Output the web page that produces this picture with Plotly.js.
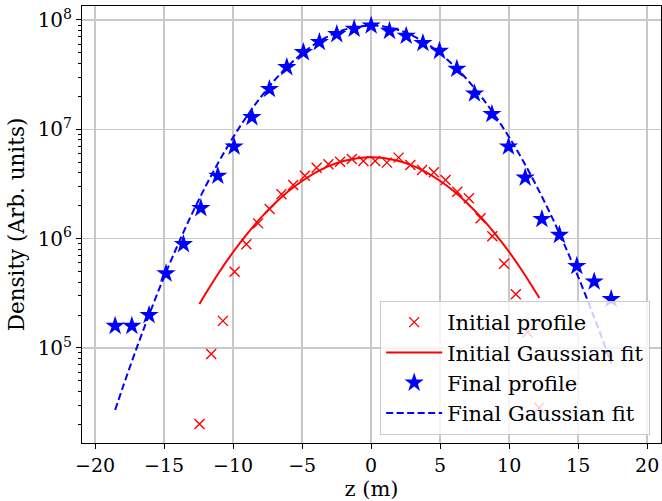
<!DOCTYPE html>
<html>
<head>
<meta charset="utf-8">
<script src="https://cdn.plot.ly/plotly-3.0.1.min.js"></script>
<style>html,body{margin:0;padding:0;background:#fff;}#chart{width:662px;height:501px;}</style>
</head>
<body>
<div id="chart"></div>
<script>
// Initial profile (red x markers)
const initZ = [-12.44, -11.59, -10.74, -9.89, -9.04, -8.19, -7.35, -6.50, -5.65, -4.80,
               -3.95, -3.10, -2.25, -1.40, -0.56, 0.29, 1.14, 1.99, 2.84, 3.69,
               4.54, 5.39, 6.24, 7.08, 7.93, 8.78, 9.63, 10.48, 11.33, 12.18];
const initDensity = [2.02e4, 8.8e4, 1.77e5, 4.99e5, 8.9e5, 1.38e6, 1.87e6, 2.55e6, 3.10e6, 3.77e6,
                     4.46e6, 4.80e6, 5.06e6, 5.36e6, 5.14e6, 5.14e6, 4.96e6, 5.51e6, 4.72e6, 4.25e6,
                     4.05e6, 3.44e6, 2.69e6, 2.34e6, 1.54e6, 1.05e6, 5.9e5, 3.10e5, 1.39e5, 2.84e4];

// Initial Gaussian fit (red solid line)
const initFitZ = [-12.44, -12, -11, -10, -9, -8, -7, -6, -5, -4, -3, -2, -1, 0,
                  1, 2, 3, 4, 5, 6, 7, 8, 9, 10, 11, 12, 12.18];
const initFitDensity = [2.53e5, 3.13e5, 4.96e5, 7.55e5, 1.10e6, 1.55e6, 2.09e6, 2.71e6, 3.37e6, 4.04e6, 4.65e6, 5.13e6, 5.45e6, 5.56e6,
                        5.45e6, 5.13e6, 4.65e6, 4.04e6, 3.37e6, 2.71e6, 2.09e6, 1.55e6, 1.10e6, 7.55e5, 4.96e5, 3.13e5, 2.87e5];

// Final profile (blue stars)
const finalZ = [-18.55, -17.34, -16.09, -14.86, -13.60, -12.34, -11.11, -9.93, -8.64, -7.37,
                -6.11, -4.91, -3.75, -2.49, -1.23, 0.00, 1.33, 2.54, 3.75, 4.95,
                6.21, 7.49, 8.75, 9.95, 11.16, 12.37, 13.64, 14.90, 16.16, 17.39];
const finalDensity = [1.59e5, 1.59e5, 2.0e5, 4.8e5, 8.9e5, 1.9e6, 3.75e6, 6.95e6, 1.29e7, 2.33e7,
                      3.7e7, 5.07e7, 6.27e7, 7.41e7, 8.3e7, 8.89e7, 7.94e7, 7.16e7, 6.14e7, 5.21e7,
                      3.57e7, 2.12e7, 1.38e7, 6.95e6, 3.61e6, 1.51e6, 1.08e6, 5.62e5, 4.05e5, 2.8e5];

// Final Gaussian fit (blue dashed line)
const finalFitZ = [-18.55, -18, -17, -16, -15, -14, -13, -12, -11, -10, -9, -8, -7, -6, -5, -4, -3, -2, -1, 0,
                   1, 2, 3, 4, 5, 6, 7, 8, 9, 10, 11, 12, 13, 14, 15, 16, 17, 17.39];
const finalFitDensity = [2.71e4, 4.35e4, 9.91e4, 2.15e5, 4.47e5, 8.83e5, 1.67e6, 3.00e6, 5.16e6, 8.45e6, 1.32e7, 1.97e7, 2.81e7, 3.81e7, 4.94e7, 6.10e7, 7.19e7, 8.09e7, 8.69e7, 8.89e7,
                         8.69e7, 8.09e7, 7.19e7, 6.10e7, 4.94e7, 3.81e7, 2.81e7, 1.97e7, 1.32e7, 8.45e6, 5.16e6, 3.00e6, 1.67e6, 8.83e5, 4.47e5, 2.15e5, 9.91e4, 7.23e4];

const legendNames = ['Initial profile', 'Initial Gaussian fit', 'Final profile', 'Final Gaussian fit'];
const yTickVals = [1e5, 1e6, 1e7, 1e8];
const yTickText = ['10<sup>5</sup>', '10<sup>6</sup>', '10<sup>7</sup>', '10<sup>8</sup>'];
const xTickVals = [-20, -15, -10, -5, 0, 5, 10, 15, 20];
const xTickText = ['\u221220', '\u221215', '\u221210', '\u22125', '0', '5', '10', '15', '20'];

const FONT = 'DejaVu Serif';

const traces = [
  {x: initZ, y: initDensity, type: 'scatter', mode: 'markers', name: legendNames[0], legendgroup: 'a',
   marker: {symbol: 'x-thin-open', size: 10, color: 'red', line: {color: 'red', width: 1.4}}},
  {x: initFitZ, y: initFitDensity, type: 'scatter', mode: 'lines', name: legendNames[1], legendgroup: 'b',
   line: {color: 'red', width: 2, shape: 'spline'}},
  {x: finalZ, y: finalDensity, type: 'scatter', mode: 'markers', name: legendNames[2], legendgroup: 'c',
   marker: {symbol: 'star', size: 14.5, color: 'blue', line: {width: 0}}},
  {x: finalFitZ, y: finalFitDensity, type: 'scatter', mode: 'lines', name: legendNames[3], legendgroup: 'd',
   line: {color: 'blue', width: 2, dash: '7px,3.5px', shape: 'spline'}}
];

const layout = {
  width: 662, height: 501,
  margin: {l: 82, r: 1, t: 6, b: 58},
  paper_bgcolor: 'white', plot_bgcolor: 'white',
  font: {family: FONT, size: 19, color: 'black'},
  showlegend: true,
  legend: {
    x: 0.515, y: 0.325, xanchor: 'left', yanchor: 'top',
    bgcolor: 'rgba(255,255,255,0.8)', bordercolor: '#cccccc', borderwidth: 1,
    font: {family: FONT, size: 21, color: 'black'},
    itemwidth: 56, tracegroupgap: 5, traceorder: 'normal'
  },
  xaxis: {
    range: [-20.95, 21.0],
    tickvals: xTickVals, ticktext: xTickText,
    ticks: 'outside', ticklen: 5, tickwidth: 1, tickcolor: 'black',
    showgrid: true, gridcolor: '#c8c8c8', gridwidth: 1.5,
    zeroline: false, showline: true, mirror: true, linecolor: 'black', linewidth: 1,
    tickfont: {family: FONT, size: 19, color: 'black'},
    title: {text: 'z (m)', font: {family: FONT, size: 21, color: 'black'}, standoff: 7}
  },
  yaxis: {
    type: 'log',
    range: [4.131, 8.128],
    tickvals: yTickVals, ticktext: yTickText,
    ticks: 'outside', ticklen: 5, tickwidth: 1, tickcolor: 'black',
    minor: {dtick: 'D1', ticks: 'outside', ticklen: 3, tickwidth: 1, tickcolor: 'black', showgrid: false},
    showgrid: true, gridcolor: '#c8c8c8', gridwidth: 1.5,
    zeroline: false, showline: true, mirror: true, linecolor: 'black', linewidth: 1,
    tickfont: {family: FONT, size: 20, color: 'black'},
    title: {text: 'Density (Arb. units)', font: {family: FONT, size: 21.5, color: 'black'}, standoff: 7}
  }
};

Plotly.newPlot('chart', traces, layout, {displayModeBar: false, staticPlot: true});
</script>
</body>
</html>
